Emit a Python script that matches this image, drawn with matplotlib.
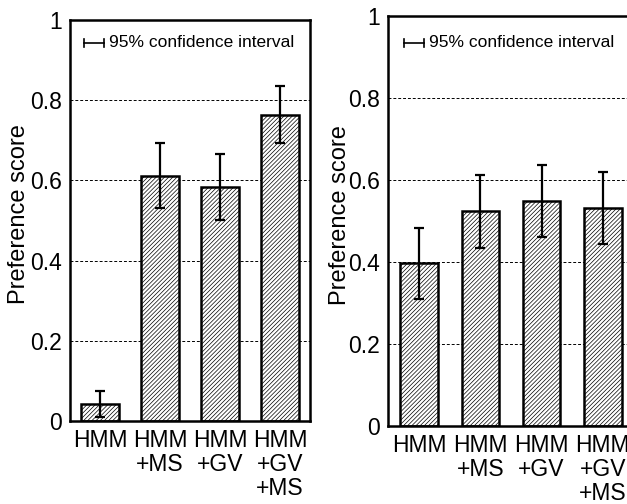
import numpy as np
import matplotlib
matplotlib.use("Agg")
import matplotlib.pyplot as plt

plt.rcParams["font.family"] = ["Liberation Sans", "DejaVu Sans"]
plt.rcParams["hatch.color"] = "#5a5a5a"
plt.rcParams["hatch.linewidth"] = 0.5

# -----------------------------
# data
# -----------------------------
labels_left = ["HMM", "HMM\n+MS", "HMM\n+GV", "HMM\n+GV\n+MS"]
scores_left = [0.042, 0.612, 0.584, 0.764]
ci_left = [0.033, 0.081, 0.082, 0.071]

labels_right = ["HMM", "HMM\n+MS", "HMM\n+GV", "HMM\n+GV\n+MS"]
scores_right = [0.397, 0.524, 0.548, 0.532]
ci_right = [0.087, 0.089, 0.088, 0.087]

legend_text = "95% confidence interval"
ylabel = "Preference score"


def draw_panel(ax, labels, scores, ci, width, leg, ylab_pos):
    x = np.arange(len(scores))
    ax.bar(x, scores, width=width, color="white", edgecolor="black",
           linewidth=1.8, hatch="/" * 8, zorder=2)
    ax.errorbar(x, scores, yerr=ci, fmt="none", ecolor="black",
                elinewidth=1.6, capsize=3.5, capthick=1.6, zorder=3)

    ax.set_xlim(-0.5, len(scores) - 0.5)
    ax.set_ylim(0, 1)
    ax.set_yticks([0, 0.2, 0.4, 0.6, 0.8, 1])
    ax.set_yticklabels(["0", "0.2", "0.4", "0.6", "0.8", "1"])
    ax.set_xticks(x)
    ax.set_xticklabels(labels, linespacing=1.05)
    ax.tick_params(length=0, labelsize=16.5, pad=6)
    for y in [0.2, 0.4, 0.6, 0.8]:
        ax.axhline(y, color="black", linestyle=(0, (3, 2)), linewidth=0.7, zorder=1)
    for s in ax.spines.values():
        s.set_linewidth(1.8)
    ax.set_ylabel(ylabel, fontsize=17)
    ax.yaxis.set_label_coords(*ylab_pos)

    # confidence interval key
    x0, x1, yk, xt = leg
    ax.plot([x0, x1], [yk, yk], color="black", linewidth=1.2,
            transform=ax.transAxes, clip_on=False)
    for xx in (x0, x1):
        ax.plot([xx, xx], [yk - 0.01, yk + 0.01], color="black",
                linewidth=1.2, transform=ax.transAxes, clip_on=False)
    ax.text(xt, yk, legend_text, transform=ax.transAxes,
            fontsize=12.5, va="center", ha="left")


fig = plt.figure(figsize=(6.27, 5.04), dpi=100)
ax1 = fig.add_axes([0.1116, 0.1647, 0.3828, 0.7956])
ax2 = fig.add_axes([0.6193, 0.1553, 0.391, 0.812])

draw_panel(ax1, labels_left, scores_left, ci_left, 0.62,
           (0.058, 0.142, 0.943, 0.163), (-0.165, 0.516))
draw_panel(ax2, labels_right, scores_right, ci_right, 0.61,
           (0.065, 0.147, 0.936, 0.166), (-0.153, 0.515))

fig.savefig("out.png", dpi=100)
